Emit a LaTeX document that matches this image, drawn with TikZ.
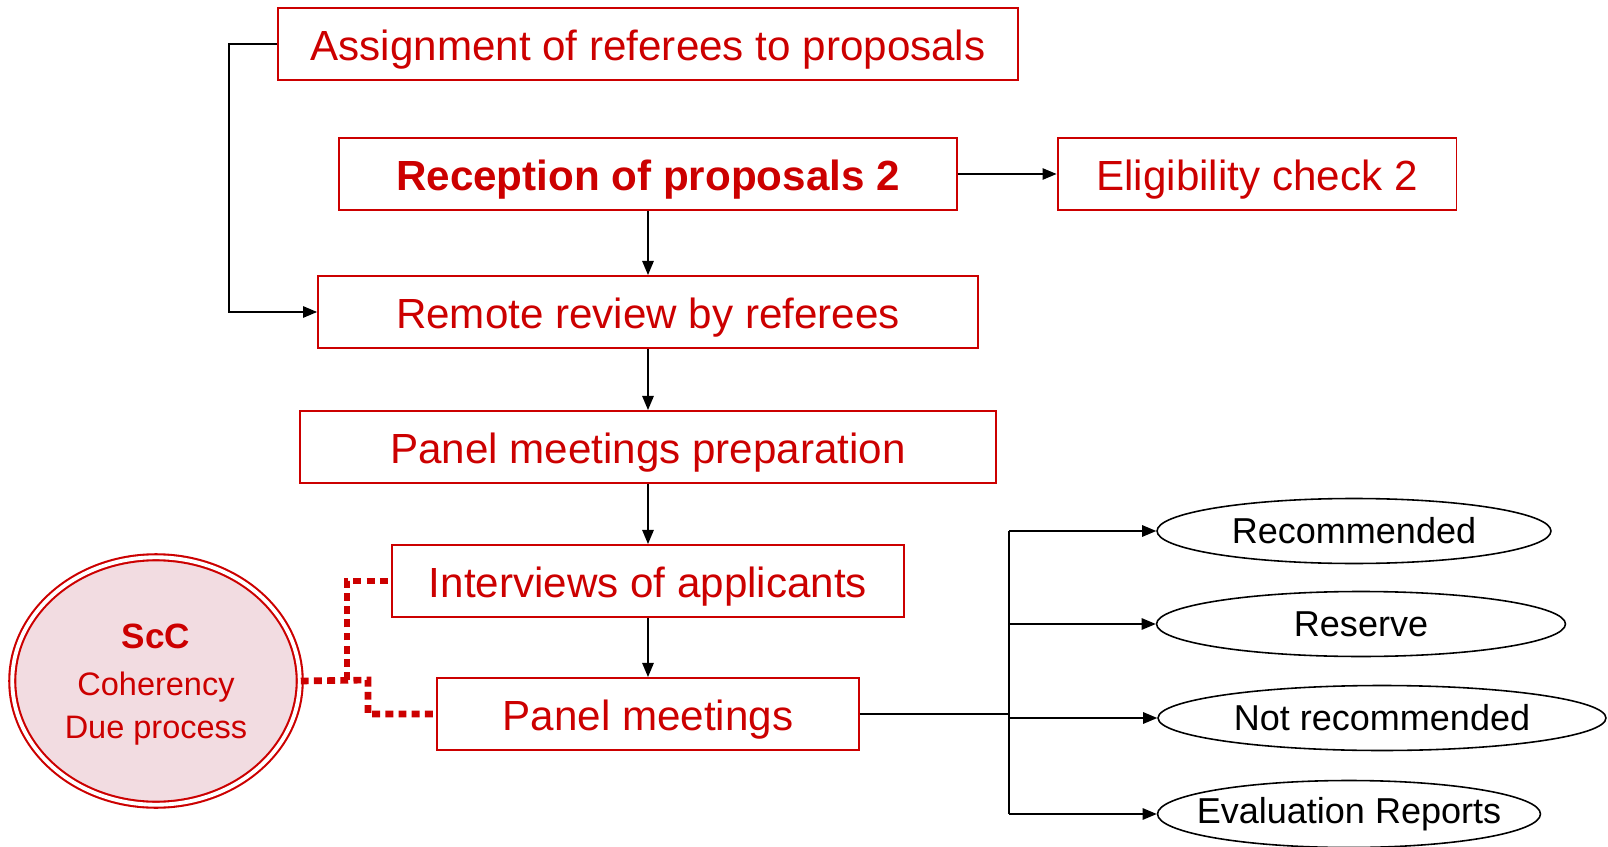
\documentclass[tikz,border=0pt]{standalone}
\usepackage{fontspec}
\setmainfont{Liberation Sans}
\usetikzlibrary{arrows.meta,graphs,shapes.geometric}
\definecolor{ercred}{HTML}{CC0000}
\definecolor{sccpink}{HTML}{F2DCE1}

\begin{document}
\begin{tikzpicture}[x=0.02cm, y=-0.02cm,
    >={Triangle[length=8pt,width=6.5pt]}]
  \tikzset{stepbox/.style={draw=ercred, line width=1.1pt, text=ercred,
      minimum height=1.44cm, inner sep=0, text height=19pt, text depth=0pt,
      font=\fontsize{24}{29}\selectfont},
    outcome/.style={ellipse, draw, line width=0.9pt, inner sep=0,
      minimum height=1.3cm, font=\fontsize{20.5}{24}\selectfont},
    link/.style={line width=0.85pt},
    dots/.style={ercred, line width=3.8pt, dash pattern=on 4.5pt off 3pt}}
  \useasboundingbox (0,0) rectangle (1608,847);
  \node[stepbox, minimum width=14.8cm] (assign) at (648,44)
      {Assignment of referees to proposals};
  \node[stepbox, minimum width=12.36cm, font=\fontsize{24}{29}\selectfont\bfseries]
      (recept) at (648,174) {Reception of proposals 2};
  \node[stepbox, minimum width=7.98cm] (elig) at (1257,174)
      {Eligibility check 2};
  \node[stepbox, minimum width=13.2cm] (remote) at (648,312)
      {Remote review by referees};
  \node[stepbox, minimum width=13.92cm] (prep) at (648,447)
      {Panel meetings preparation};
  \node[stepbox, minimum width=10.24cm] (interv) at (648,581)
      {Interviews of applicants};
  \node[stepbox, minimum width=8.44cm] (panel) at (648,714)
      {Panel meetings};
  \node[ellipse, draw=ercred, line width=1.2pt, double=white,
      double distance=2.2pt, fill=sccpink, text=ercred, inner sep=0,
      minimum width=5.75cm, minimum height=4.95cm, align=center,
      text depth=0pt, font=\fontsize{18.5}{24}\selectfont] (scc) at (156,681)
      {{\fontsize{20}{24}\selectfont\bfseries ScC}\\[3pt]Coherency\\Due process};
  \node[outcome, minimum width=7.88cm] (recom) at (1354,531) {Recommended};
  \node[outcome, minimum width=8.18cm] (reserve) at (1361,624) {Reserve};
  \node[outcome, minimum width=8.96cm] (notrec) at (1382,718)
      {Not recommended};
  \node[outcome, minimum width=7.66cm, minimum height=1.34cm,
      inner xsep=-20pt] (evalrep) at (1349,814) {Evaluation Reports};
  \graph[use existing nodes, edges={link}] {
    recept -> elig;
    recept -> remote -> prep -> interv -> panel;
  };
  \draw[link,->] (assign.west) -- ++(-48,0) |- (remote.west);
  % branches to the outcomes
  \coordinate (trunk) at (1009,715);
  \draw[link] (panel.east) -- (panel.east -| trunk);
  \draw[link] (trunk |- recom.west) -- (trunk |- evalrep.west);
  \foreach \o in {recom,reserve,notrec,evalrep}
    \draw[link,->] (trunk |- \o.west) -- (\o.west);
  % dotted links of the ScC
  \coordinate (j1) at (347,680);
  \coordinate (j2) at (368,680);
  \draw[dots] (scc.east) -- (j2) |- (panel.west);
  \draw[dots] (j1) |- (interv.west);
\end{tikzpicture}
\end{document}
